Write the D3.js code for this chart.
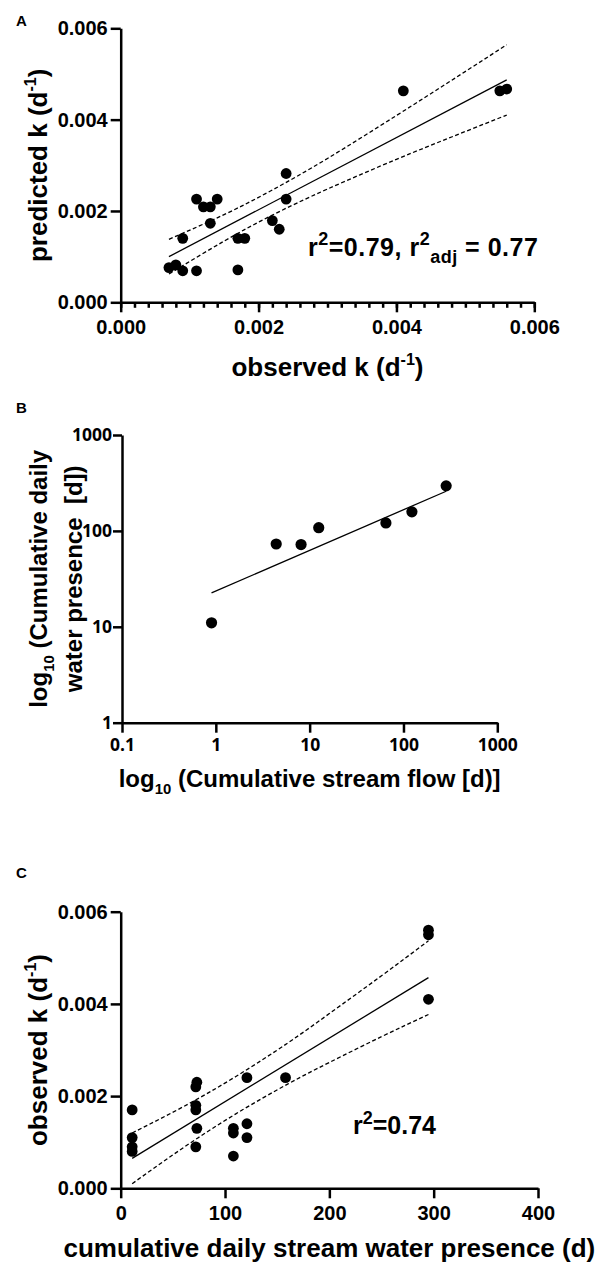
<!DOCTYPE html>
<html>
<head>
<meta charset="utf-8">
<script src="https://cdn.jsdelivr.net/npm/d3@7"></script>
<style>
body { margin: 0; background: #fff; }
svg text { font-family: "Liberation Sans", Arial, sans-serif; font-weight: bold; fill: #000; }
</style>
</head>
<body>
<svg id="chart" width="603" height="1271"></svg>
<script>
// ---- panel A: observed vs predicted k ----
var observedA  = [0.0007, 0.0008, 0.0009, 0.0009, 0.0011, 0.0011, 0.0012, 0.0013, 0.0014, 0.0013,
                  0.0017, 0.0018, 0.0017, 0.0022, 0.0023, 0.0024, 0.0024, 0.0041, 0.0055, 0.0056];
var predictedA = [0.00076, 0.00082, 0.00069, 0.0014, 0.00069, 0.00226, 0.00209, 0.00209, 0.00226, 0.00173,
                  0.0014, 0.0014, 0.00071, 0.00179, 0.0016, 0.00282, 0.00226, 0.00463, 0.00463, 0.00467];
var fitXA  = [0.0007, 0.0056];
var fitYA  = [0.00100, 0.00487];
var bandXA = [0.0007, 0.0015, 0.0022, 0.003, 0.004, 0.0048, 0.0056];
var bandLoA = [0.00062, 0.00134, 0.00191, 0.00248, 0.00313, 0.00362, 0.00410];
var bandHiA = [0.00138, 0.00192, 0.00246, 0.00315, 0.00409, 0.00486, 0.00564];
var ticksA = [0, 0.002, 0.004, 0.006];

// ---- panel B: log stream flow vs log water presence ----
var flowB     = [0.9, 4.4, 8.1, 12.5, 65, 123, 285];
var presenceB = [11, 73, 72, 108, 121, 158, 295];
var fitXB = [0.9, 285];
var fitYB = [22.6, 259];
var ticksXB = [0.1, 1, 10, 100, 1000];
var ticksYB = [1, 10, 100, 1000];

// ---- panel C: water presence vs observed k ----
var presenceC = [11, 11, 11, 11, 73, 72, 72, 72, 73, 72, 108, 108, 108, 121, 121, 121, 158, 295, 295, 295];
var observedC = [0.0017, 0.0011, 0.0009, 0.0008, 0.0023, 0.0022, 0.0018, 0.0017, 0.0013, 0.0009,
                 0.0013, 0.0012, 0.0007, 0.0024, 0.0014, 0.0011, 0.0024, 0.0056, 0.0055, 0.0041];
var fitXC  = [11, 295];
var fitYC  = [0.00065, 0.00457];
var bandXC = [11, 60, 110, 160, 200, 250, 295];
var bandLoC = [0.00010, 0.00088, 0.00161, 0.00226, 0.00273, 0.00329, 0.00377];
var bandHiC = [0.00120, 0.00177, 0.00242, 0.00315, 0.00379, 0.00461, 0.00537];
var ticksXC = [0, 100, 200, 300, 400];
var ticksYC = [0, 0.002, 0.004, 0.006];

var AXIS_W = 2.5;
var DOT_R = 5.4;

var svg = d3.select("#chart");

// text with superscript / subscript parts: [["text","n"|"sup"|"sub"], ...]
var addRich = function(parent, parts, size, small) {
    small = small || 0.62;
    var text = parent.append("text").style("font-size", size + "px");
    var shift = 0;
    parts.forEach(function(p) {
        var target = p[1] == "sup" ? -0.42 * size : (p[1] == "sub" ? 0.3 * size : 0);
        text.append("tspan")
            .attr("dy", target - shift)
            .style("font-size", (p[1] == "n" ? size : small * size) + "px")
            .text(p[0]);
        shift = target;
    });
    return text;
}

var styleAxis = function(g, fontSize, family) {
    g.attr("font-family", null).attr("font-size", null);
    g.select(".domain").attr("stroke-width", AXIS_W);
    g.selectAll(".tick line").attr("stroke-width", AXIS_W);
    g.selectAll(".tick text")
        .style("font-size", fontSize + "px")
        .style("font-family", family || null);
}

var drawDots = function(xs, ys, x, y, r) {
    svg.append("g").selectAll("circle")
        .data(xs)
        .join("circle")
        .attr("cx", function(d) { return x(d); })
        .attr("cy", function(d, i) { return y(ys[i]); })
        .attr("r", r)
        .style("fill", "#000");
}

var drawLine = function(xs, ys, x, y, dashed, curve) {
    var line = d3.line()
        .x(function(d) { return x(d); })
        .y(function(d, i) { return y(ys[i]); })
        .curve(curve || d3.curveLinear);
    svg.append("path")
        .attr("d", line(xs))
        .attr("fill", "none")
        .attr("stroke", "#000")
        .attr("stroke-width", 1.3)
        .attr("stroke-dasharray", dashed ? "4,2.5" : null);
}

var panelLabel = function(t, x, y) {
    svg.append("text").attr("x", x).attr("y", y).style("font-size", "15px").text(t);
}

// ================= panel A =================
var xA = d3.scaleLinear().domain([0, 0.006]).range([120.7, 534.3]);
var yA = d3.scaleLinear().domain([0, 0.006]).range([302.3, 28.3]);

svg.append("g")
    .attr("transform", "translate(0," + yA(0) + ")")
    .call(d3.axisBottom(xA).tickValues(xA.ticks(30)).tickSize(5.5).tickFormat(""))
    .call(function(g) { styleAxis(g, 20); g.select(".domain").remove(); });
svg.append("g")
    .attr("transform", "translate(0," + yA(0) + ")")
    .call(d3.axisBottom(xA).tickValues(ticksA).tickSize(10).tickSizeOuter(0).tickPadding(7.5).tickFormat(d3.format(".3f")))
    .call(function(g) { styleAxis(g, 20); });
svg.append("g")
    .attr("transform", "translate(" + xA(0) + ",0)")
    .call(d3.axisLeft(yA).tickValues(ticksA).tickSize(10).tickSizeOuter(0).tickPadding(3).tickFormat(d3.format(".3f")))
    .call(function(g) { styleAxis(g, 20); });

drawLine(bandXA, bandHiA, xA, yA, true, d3.curveNatural);
drawLine(bandXA, bandLoA, xA, yA, true, d3.curveNatural);
drawLine(fitXA, fitYA, xA, yA, false);
drawDots(observedA, predictedA, xA, yA, DOT_R);

addRich(svg, [["observed k (d", "n"], ["-1", "sup"], [")", "n"]], 26)
    .attr("transform", "translate(" + (xA(0) + xA(0.006)) / 2 + ",376)")
    .attr("text-anchor", "middle");
addRich(svg, [["predicted k (d", "n"], ["-1", "sup"], [")", "n"]], 26)
    .attr("transform", "translate(47," + (yA(0) + yA(0.006)) / 2 + ") rotate(-90)")
    .attr("text-anchor", "middle");
addRich(svg, [["r", "n"], ["2", "sup"], ["=0.79, r", "n"], ["2", "sup"], ["adj", "sub"], [" = 0.77", "n"]], 25, 0.72)
    .attr("transform", "translate(308,255.7)")
    .style("letter-spacing", "0.5px");
panelLabel("A", 16, 26);

// ================= panel B =================
var xB = d3.scaleLog().domain([0.1, 1000]).range([122, 497.3]);
var yB = d3.scaleLog().domain([1, 1000]).range([722.7, 435]);

svg.append("g")
    .attr("transform", "translate(0," + yB(1) + ")")
    .call(d3.axisBottom(xB).tickValues(ticksXB).tickSize(10).tickSizeOuter(0).tickPadding(6).tickFormat(function(d) { return String(d); }))
    .call(function(g) { styleAxis(g, 17.5, "'Open Sans', sans-serif"); });
svg.append("g")
    .attr("transform", "translate(" + xB(0.1) + ",0)")
    .call(d3.axisLeft(yB).tickValues(ticksYB).tickSize(9).tickSizeOuter(0).tickPadding(1).tickFormat(function(d) { return String(d); }))
    .call(function(g) { styleAxis(g, 17.5, "'Open Sans', sans-serif"); });

drawLine(fitXB, fitYB, xB, yB, false);
drawDots(flowB, presenceB, xB, yB, 5.6);

addRich(svg, [["log", "n"], ["10", "sub"], [" (Cumulative stream flow [d)]", "n"]], 24)
    .attr("transform", "translate(" + (xB(0.1) + xB(1000)) / 2 + ",787)")
    .attr("text-anchor", "middle");
addRich(svg, [["log", "n"], ["10", "sub"], [" (Cumulative daily", "n"]], 24)
    .attr("transform", "translate(47," + (yB(1) + yB(1000)) / 2 + ") rotate(-90)")
    .attr("text-anchor", "middle");
addRich(svg, [["water presence  [d])", "n"]], 24)
    .attr("transform", "translate(82," + (yB(1) + yB(1000)) / 2 + ") rotate(-90)")
    .attr("text-anchor", "middle")
    .style("white-space", "pre");
panelLabel("B", 16, 413);

// ================= panel C =================
var xC = d3.scaleLinear().domain([0, 400]).range([120.7, 538]);
var yC = d3.scaleLinear().domain([0, 0.006]).range([1188.3, 911.7]);

svg.append("g")
    .attr("transform", "translate(0," + yC(0) + ")")
    .call(d3.axisBottom(xC).tickValues(ticksXC).tickSize(10).tickSizeOuter(0).tickPadding(8).tickFormat(d3.format("d")))
    .call(function(g) { styleAxis(g, 20); });
svg.append("g")
    .attr("transform", "translate(" + xC(0) + ",0)")
    .call(d3.axisLeft(yC).tickValues(ticksYC).tickSize(10).tickSizeOuter(0).tickPadding(3).tickFormat(d3.format(".3f")))
    .call(function(g) { styleAxis(g, 20); });

drawLine(bandXC, bandHiC, xC, yC, true, d3.curveNatural);
drawLine(bandXC, bandLoC, xC, yC, true, d3.curveNatural);
drawLine(fitXC, fitYC, xC, yC, false);
drawDots(presenceC, observedC, xC, yC, DOT_R);

addRich(svg, [["cumulative daily stream water presence (d)", "n"]], 26)
    .attr("transform", "translate(" + (xC(0) + xC(400)) / 2 + ",1257)")
    .attr("text-anchor", "middle");
addRich(svg, [["observed k (d", "n"], ["-1", "sup"], [")", "n"]], 26)
    .attr("transform", "translate(47," + (yC(0) + yC(0.006)) / 2 + ") rotate(-90)")
    .attr("text-anchor", "middle");
addRich(svg, [["r", "n"], ["2", "sup"], ["=0.74", "n"]], 25, 0.72)
    .attr("transform", "translate(353,1134)");
panelLabel("C", 16, 878);
</script>
</body>
</html>
